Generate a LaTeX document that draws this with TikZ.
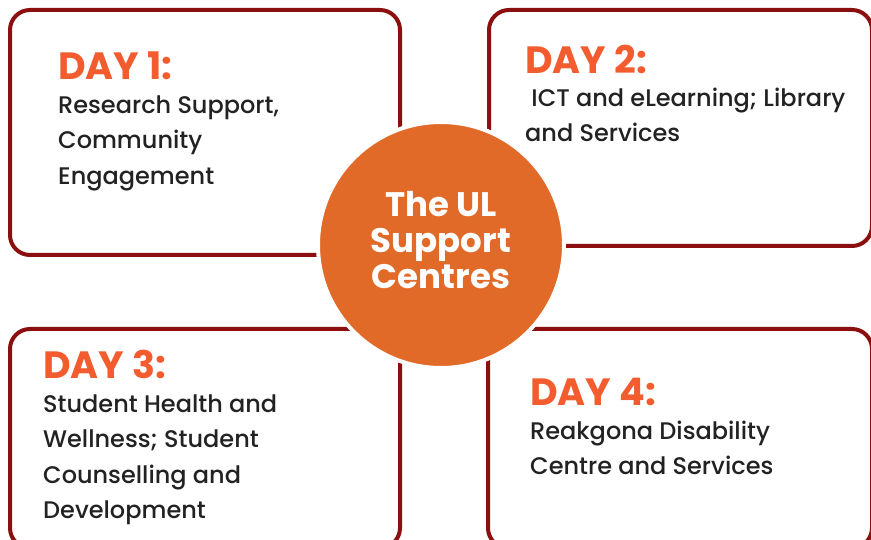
\documentclass[tikz,border=0pt]{standalone}
\usepackage{fontspec}
\setmainfont{Poppins}[UprightFont=* Medium, BoldFont=* Bold]
\usepackage{tikz}
\usetikzlibrary{positioning}

\definecolor{ulmaroon}{HTML}{8B0F0F}
\definecolor{ulorange}{HTML}{E16A29}
\definecolor{dayorange}{HTML}{F25C2E}
\definecolor{bodyink}{HTML}{222222}

\newcommand{\dayhead}[1]{{\fontsize{38}{38}\selectfont\bfseries\color{dayorange}#1}}

\begin{document}
\begin{tikzpicture}[
  x=1pt, y=1pt,
  daybox/.style={rectangle, draw=ulmaroon, line width=4pt, fill=white,
                 rounded corners=20pt, inner sep=0pt, outer sep=0pt, anchor=north west},
  daytext/.style={anchor=north west, inner sep=0pt, align=left, text=bodyink,
                  font=\fontsize{24}{35.5}\selectfont},
  hub/.style={circle, draw=white, line width=4pt, fill=ulorange, minimum size=246pt,
              inner sep=0pt, text=white, align=center, text depth=10pt,
              font=\fontsize{34}{36}\selectfont\bfseries}
]
  \useasboundingbox (0,0) rectangle (871,539);

  % the four day panels
  \node[daybox, minimum width=390pt, minimum height=245pt] (d1) at (10,529) {};
  \node[daybox, minimum width=383pt, minimum height=236pt] (d2) at (489,529) {};
  \node[daybox, minimum width=390pt, minimum height=219pt] (d3) at (10,210) {};
  \node[daybox, minimum width=384pt, minimum height=219pt] (d4) at (488,210) {};

  % what is covered each day
  \node[daytext, below right=42pt and 48pt of d1.north west] (t1)
    {\dayhead{DAY 1:}\\[-2pt]Research Support,\\Community\\Engagement};
  \node[daytext, below right=35pt and 36pt of d2.north west] (t2)
    {\dayhead{DAY 2:}\\[-3pt]\ ICT and eLearning; Library\\and Services};
  \node[daytext, below right=21pt and 33pt of d3.north west] (t3)
    {\dayhead{DAY 3:}\\[-2pt]Student Health and\\Wellness; Student\\Counselling and\\Development};
  \node[daytext, below right=49pt and 42pt of d4.north west] (t4)
    {\dayhead{DAY 4:}\\[-2pt]Reakgona Disability\\Centre and Services};

  % centre badge
  \node[hub] (ul) at (441,294) {The UL\\Support\\Centres};
\end{tikzpicture}
\end{document}
